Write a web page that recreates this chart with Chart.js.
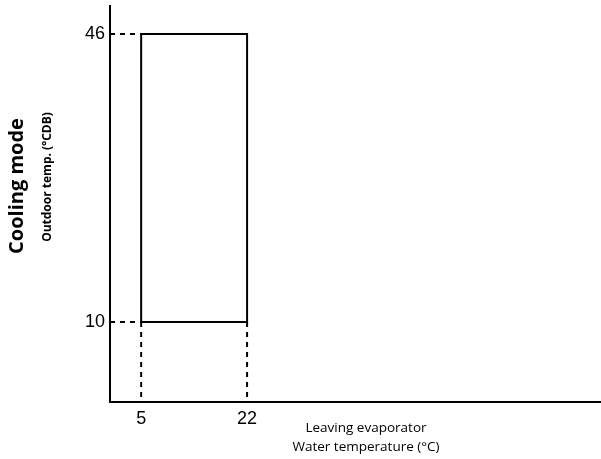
<!DOCTYPE html>
<html>
<head>
<meta charset="utf-8">
<script src="https://cdn.jsdelivr.net/npm/chart.js@4/dist/chart.umd.min.js"></script>
<style>
  html, body { margin: 0; padding: 0; background: #fff; }
  #wrap { width: 601px; height: 459px; }
</style>
</head>
<body>
<div id="wrap"><canvas id="chart" width="601" height="459"></canvas></div>
<script>
// Operating range: leaving evaporator water temperature vs outdoor temperature
const X_MIN = 0, X_MAX = 78.8;
const Y_MIN = 0, Y_MAX = 49.5;
const WATER_RANGE = [5, 22];     // °C, leaving evaporator water
const OUTDOOR_RANGE = [10, 46];  // °CDB, outdoor air
const X_TICKS = [5, 22];
const Y_TICKS = [10, 46];

const [wLo, wHi] = WATER_RANGE;
const [oLo, oHi] = OUTDOOR_RANGE;

const envelope = [
  { x: wLo, y: oLo }, { x: wLo, y: oHi }, { x: wHi, y: oHi }, { x: wHi, y: oLo }, { x: wLo, y: oLo }
];

const guideStyle = {
  type: 'line', showLine: true, borderColor: '#000', borderWidth: 2,
  borderDash: [5, 5], pointRadius: 0, fill: false
};

const guides = [
  [{ x: X_MIN, y: oHi }, { x: wLo, y: oHi }],
  [{ x: X_MIN, y: oLo }, { x: wLo, y: oLo }],
  [{ x: wLo, y: oLo }, { x: wLo, y: Y_MIN }],
  [{ x: wHi, y: oLo }, { x: wHi, y: Y_MIN }]
].map(d => Object.assign({ data: d }, guideStyle));

// Free-standing captions drawn onto the canvas
const captions = {
  id: 'captions',
  afterDraw(chart, args, opts) {
    const ctx = chart.ctx;
    opts.items.forEach(it => {
      ctx.save();
      ctx.translate(it.x, it.y);
      ctx.rotate(it.rotate || 0);
      ctx.font = it.font;
      ctx.fillStyle = '#000';
      ctx.textAlign = 'center';
      ctx.textBaseline = 'middle';
      it.lines.forEach((t, i) => ctx.fillText(t, 0, i * (it.lineHeight || 0)));
      ctx.restore();
    });
  }
};

const tickFont = { family: "'Liberation Sans', Arial, sans-serif", size: 18 };

new Chart(document.getElementById('chart'), {
  type: 'scatter',
  data: {
    datasets: [
      { type: 'line', data: envelope, showLine: true, borderColor: '#000', borderWidth: 2,
        pointRadius: 0, fill: false, tension: 0 },
      ...guides
    ]
  },
  options: {
    responsive: false,
    animation: false,
    devicePixelRatio: 1,
    layout: { padding: { top: 6, right: 0, left: 0, bottom: 0 } },
    plugins: {
      legend: { display: false },
      tooltip: { enabled: false },
      captions: {
        items: [
          { lines: ['Cooling mode'], x: 17, y: 186, rotate: -Math.PI / 2,
            font: "bold 20px 'Open Sans', sans-serif" },
          { lines: ['Outdoor temp. (°CDB)'], x: 48, y: 177, rotate: -Math.PI / 2,
            font: "bold 12px 'Open Sans', sans-serif" },
          { lines: ['Leaving evaporator', 'Water temperature (°C)'], x: 366, y: 428, lineHeight: 19,
            font: "13.5px 'Open Sans', sans-serif" }
        ]
      }
    },
    scales: {
      x: {
        type: 'linear', min: X_MIN, max: X_MAX,
        grid: { display: false, drawTicks: false },
        border: { display: true, color: '#000', width: 2 },
        ticks: { color: '#000', font: tickFont, padding: 6, autoSkip: false, maxRotation: 0 },
        afterBuildTicks: s => { s.ticks = X_TICKS.map(v => ({ value: v })); },
        afterFit: s => { s.height = 57; s.paddingLeft = 0; s.paddingRight = 0; }
      },
      y: {
        type: 'linear', min: Y_MIN, max: Y_MAX,
        grid: { display: false, drawTicks: false },
        border: { display: true, color: '#000', width: 2 },
        ticks: { color: '#000', font: tickFont, padding: 5, autoSkip: false },
        afterBuildTicks: s => { s.ticks = Y_TICKS.map(v => ({ value: v })); },
        afterFit: s => { s.width = 110; s.paddingTop = 0; s.paddingBottom = 0; }
      }
    }
  },
  plugins: [captions]
});
</script>
</body>
</html>
